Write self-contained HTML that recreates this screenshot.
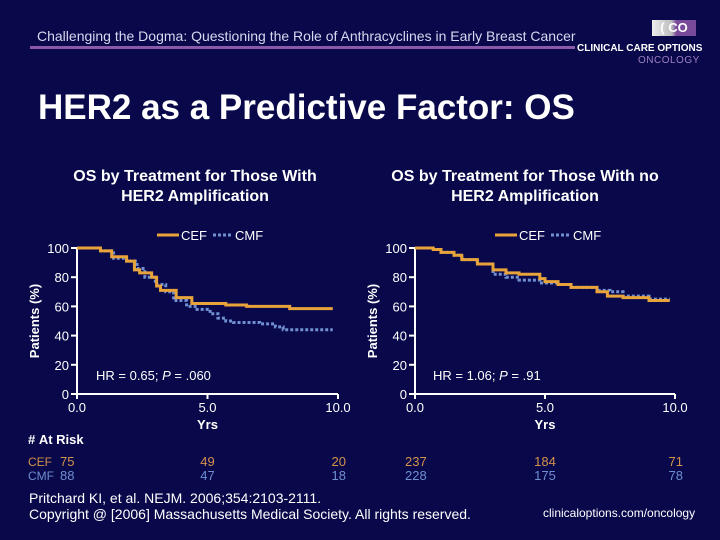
<!DOCTYPE html>
<html><head><meta charset="utf-8"><style>
body{margin:0;background:#08084a;}
#root{position:relative;width:720px;height:540px;overflow:hidden;background:#08084a;font-family:"Liberation Sans",sans-serif;color:#fff;}
.t{position:absolute;white-space:nowrap;}
</style></head><body>
<div id="root">
<div class="t" style="left:37px;top:28px;font-size:14px;color:#d8d8f0;">Challenging the Dogma: Questioning the Role of Anthracyclines in Early Breast Cancer</div>
<div style="position:absolute;left:30px;top:46px;width:545px;height:3px;background:#8a5aa8;"></div>
<div style="position:absolute;left:652px;top:20px;width:44px;height:16px;background:linear-gradient(90deg,#eee 0,#bbb 45%,#7a4a9a 55%,#7a4a9a 100%);font-size:13px;font-weight:bold;color:#fff;text-align:center;line-height:16px;">( CO</div>
<div class="t" style="left:577px;top:43px;font-size:10px;font-weight:bold;color:#fff;">CLINICAL CARE OPTIONS</div>
<div class="t" style="left:638px;top:55px;font-size:10px;color:#a080c0;letter-spacing:0.5px;">ONCOLOGY</div>
<div class="t" style="left:38px;top:88px;font-size:35px;font-weight:bold;">HER2 as a Predictive Factor: OS</div>
<div class="t" style="left:45px;top:167px;width:300px;text-align:center;font-size:16px;font-weight:bold;line-height:20px;">OS by Treatment for Those With<br>HER2 Amplification</div>
<div class="t" style="left:370px;top:167px;width:310px;text-align:center;font-size:16px;font-weight:bold;line-height:20px;">OS by Treatment for Those With no<br>HER2 Amplification</div>
<svg id="chart" width="720" height="540" style="position:absolute;left:0;top:0;"></svg>
<div class="t" style="left:28px;top:432px;font-size:13px;font-weight:bold;">#&nbsp;At Risk</div>
<div class="t" style="left:29px;top:490px;font-size:14px;line-height:16px;">Pritchard KI, et al. NEJM. 2006;354:2103-2111.<br>Copyright @ [2006] Massachusetts Medical Society. All rights reserved.</div>
<div class="t" style="left:543px;top:506px;font-size:12px;">clinicaloptions.com/oncology</div>
</div>
<script>
const leftCefX=[0,0.9,1.33,1.9,2.2,2.4,2.86,3.05,3.2,3.8,4.4,5.7,6.5,6.9,8.15,9.8];
const leftCefY=[100,98,94,91,85,83,80,74,71,66,62,61,60,60,58.5,58.5];
const leftCmfX=[0,0.9,1.4,1.9,2.3,2.6,3.0,3.4,3.7,4.2,4.6,5.1,5.4,5.7,6.0,7.0,7.6,7.9,9.8];
const leftCmfY=[100,98,93,91,86,80,75,70,64,60,58,55,52,50,49,48,46,44,44];
const rightCefX=[0,0.7,1,1.5,1.8,2.4,3,3.5,4,4.8,5,5.5,6,7,7.4,8,9,9.8];
const rightCefY=[100,99,97,95,92,89,85,83,82,79,77,75,73,70,67,66,64,64];
const rightCmfX=[0,0.7,1,1.5,1.8,2.4,3,3.5,4,4.8,5,5.5,6,7,7.5,8,9,9.8];
const rightCmfY=[100,99,97,95,92,89,82,80,78,76,76,75,73,71,70,67,65,65];
const yTicks=[0,20,40,60,80,100];
const xTicks=["0.0","5.0","10.0"];
const riskCef=[[75,49,20],[237,184,71]];
const riskCmf=[[88,47,18],[228,175,78]];
const hrLabels=["HR = 0.65; ","HR = 1.06; "];
const pLabels=[" = .060"," = .91"];

const svg=document.getElementById('chart');
const NS='http://www.w3.org/2000/svg';
function mk(tag,at,name){const e=document.createElementNS(NS,tag);for(const k in at)e.setAttribute(k,at[k]);


svg.appendChild(e);return e;}
const panels=[{x0:77,x1:338,cef:[leftCefX,leftCefY],cmf:[leftCmfX,leftCmfY],n:'left'},
{x0:415,x1:675,cef:[rightCefX,rightCefY],cmf:[rightCmfX,rightCmfY],n:'right'}];
const yTop=248,yBot=394;
const cefCol='#d4924a',cmfCol='#6f8fd0';
panels.forEach((p,pi)=>{
 const sx=v=>p.x0+(p.x1-p.x0)*v/10, sy=v=>yBot-(yBot-yTop)*v/100;
 mk('line',{x1:p.x0,y1:yTop,x2:p.x0,y2:yBot,stroke:'#fff','stroke-width':2},p.n+'-y-axis');
 mk('line',{x1:p.x0,y1:yBot,x2:p.x1,y2:yBot,stroke:'#fff','stroke-width':2},p.n+'-x-axis');
 yTicks.forEach(t=>{mk('line',{x1:p.x0-6,y1:sy(t),x2:p.x0,y2:sy(t),stroke:'#fff','stroke-width':2},p.n+'-y-tick');
  const tx=mk('text',{x:p.x0-8,y:sy(t)+5,'text-anchor':'end','font-size':13,fill:'#fff','font-family':'Liberation Sans'},p.n+'-y-tick-label');tx.textContent=t;});
 xTicks.forEach((t,i)=>{const x=sx(i*5);mk('line',{x1:x,y1:yBot,x2:x,y2:yBot+5,stroke:'#fff','stroke-width':2},p.n+'-x-tick');
  const tx=mk('text',{x:x,y:yBot+18,'text-anchor':'middle','font-size':13,fill:'#fff','font-family':'Liberation Sans'},p.n+'-x-tick-label');tx.textContent=t;});
 const xt=mk('text',{x:sx(5),y:yBot+35,'text-anchor':'middle','font-size':13,'font-weight':'bold',fill:'#fff','font-family':'Liberation Sans'},p.n+'-x-axis-title');xt.textContent='Yrs';
 const yt=mk('text',{x:0,y:0,transform:`translate(${p.x0-38},${(yTop+yBot)/2}) rotate(-90)`,'text-anchor':'middle','font-size':13,'font-weight':'bold',fill:'#fff','font-family':'Liberation Sans'},p.n+'-y-axis-title');yt.textContent='Patients (%)';
 function path(xs,ys){let d=`M${sx(xs[0])},${sy(ys[0])}`;for(let i=1;i<xs.length;i++){d+=`H${sx(xs[i])}V${sy(ys[i])}`;}return d;}
 mk('path',{d:path(p.cmf[0],p.cmf[1]),fill:'none',stroke:cmfCol,'stroke-width':3,'stroke-dasharray':'3,2'},p.n+'-cmf-curve');
 mk('path',{d:path(p.cef[0],p.cef[1]),fill:'none',stroke:'#e8a33a','stroke-width':3},p.n+'-cef-curve');
 const lx=p.x0+80;
 mk('line',{x1:lx,y1:235,x2:lx+22,y2:235,stroke:'#e8a33a','stroke-width':3},p.n+'-legend-cef-swatch');
 let t=mk('text',{x:lx+24,y:240,'font-size':13,fill:'#fff','font-family':'Liberation Sans'},p.n+'-legend-cef');t.textContent='CEF';
 mk('line',{x1:lx+56,y1:235,x2:lx+76,y2:235,stroke:cmfCol,'stroke-width':3,'stroke-dasharray':'3,2'},p.n+'-legend-cmf-swatch');
 t=mk('text',{x:lx+78,y:240,'font-size':13,fill:'#fff','font-family':'Liberation Sans'},p.n+'-legend-cmf');t.textContent='CMF';
 t=mk('text',{x:p.x0+(pi?18:19),y:380,'font-size':13,fill:'#fff','font-family':'Liberation Sans'},p.n+'-hr-annotation');
 t.textContent=hrLabels[pi];const ts=document.createElementNS(NS,'tspan');ts.setAttribute('font-style','italic');ts.textContent='P';t.appendChild(ts);t.appendChild(document.createTextNode(pLabels[pi]));
 [0,1,2].forEach(i=>{let xx,anc;
  if(i===0){xx=pi?sx(0)-10:60;anc='start';}else if(i===1){xx=sx(5);anc='middle';}else{xx=sx(10)+8;anc='end';}
  let a=mk('text',{x:xx,y:466,'text-anchor':anc,'font-size':13,fill:cefCol,'font-family':'Liberation Sans'},p.n+'-risk-cef');a.textContent=riskCef[pi][i];
  a=mk('text',{x:xx,y:480,'text-anchor':anc,'font-size':13,fill:cmfCol,'font-family':'Liberation Sans'},p.n+'-risk-cmf');a.textContent=riskCmf[pi][i];});
});
let a=mk('text',{x:28,y:466,'font-size':12,fill:cefCol,'font-family':'Liberation Sans'},'risk-label-cef');a.textContent='CEF';
a=mk('text',{x:28,y:480,'font-size':12,fill:cmfCol,'font-family':'Liberation Sans'},'risk-label-cmf');a.textContent='CMF';
</script>
</body></html>
